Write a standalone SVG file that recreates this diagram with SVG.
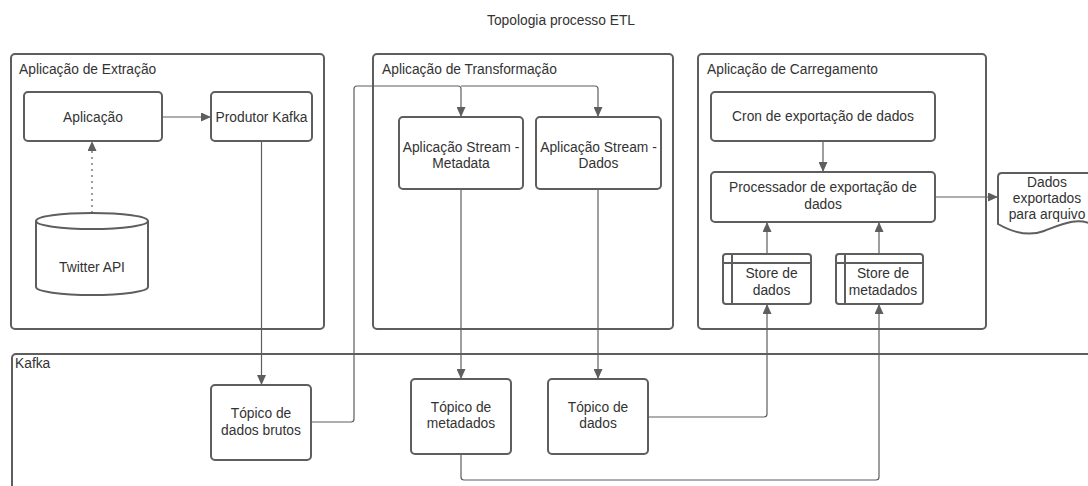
<svg xmlns="http://www.w3.org/2000/svg" width="1088" height="486" viewBox="0 0 1088 486">
<defs>
<style>
.box{fill:#fff;stroke:#5e5e5e;stroke-width:2}
.cont{fill:#fff;stroke:#5e5e5e;stroke-width:2}
.t{font-family:"Liberation Sans",Arial,sans-serif;font-size:13.8px;fill:#333;text-anchor:middle}
.tl{font-family:"Liberation Sans",Arial,sans-serif;font-size:13.8px;fill:#333;text-anchor:start}
.c{fill:none;stroke:#5e5e5e;stroke-width:1.2}
.a{marker-end:url(#arr)}
</style>
<marker id="arr" markerUnits="userSpaceOnUse" markerWidth="10" markerHeight="9" refX="10" refY="4.5" orient="auto">
<path d="M0,0 L10,4.5 L0,9 z" fill="#5e5e5e"/>
</marker>
</defs>
<rect width="1088" height="486" fill="#fff"/>
<text class="t" x="561" y="25">Topologia processo ETL</text>

<g id="containers">
<g id="extracao"><rect class="cont" x="11" y="54" width="313" height="275" rx="4"/><text class="tl" x="19" y="74">Aplicação de Extração</text></g>
<g id="transformacao"><rect class="cont" x="373" y="54" width="300" height="275" rx="4"/><text class="tl" x="382" y="74">Aplicação de Transformação</text></g>
<g id="carregamento"><rect class="cont" x="698" y="54" width="288" height="275" rx="4"/><text class="tl" x="707" y="74">Aplicação de Carregamento</text></g>
<g id="kafka"><rect class="cont" x="12" y="354" width="1100" height="160" rx="4"/><text class="tl" x="15" y="368">Kafka</text></g>
</g>

<g id="connectors">
<path class="c a" d="M162,117 L211,117"/>
<path class="c a" d="M92,213 L92,141" stroke-dasharray="2,4"/>
<path class="c a" d="M261.5,141 L261.5,385"/>
<path class="c a" d="M311,422 L351,422 Q354,422 354,419 L354,89 Q354,86 357,86 L458,86 Q461,86 461,89 L461,117"/>
<path class="c a" d="M461,86 L595,86 Q598,86 598,89 L598,117"/>
<path class="c a" d="M461,189 L461,379"/>
<path class="c a" d="M598,189 L598,379"/>
<path class="c a" d="M648,417 L764,417 Q767,417 767,414 L767,304"/>
<path class="c a" d="M461,454 L461,477 Q461,480 464,480 L876,480 Q879,480 879,477 L879,304"/>
<path class="c a" d="M767,254 L767,222"/>
<path class="c a" d="M879,254 L879,222"/>
<path class="c a" d="M823,141 L823,172"/>
<path class="c a" d="M935,197 L998,197"/>
</g>

<g id="aplicacao"><rect class="box" x="24" y="92" width="138" height="49" rx="4"/><text class="t" x="93" y="122">Aplicação</text></g>
<g id="produtor"><rect class="box" x="211" y="92" width="101" height="49" rx="4"/><text class="t" x="261.5" y="122">Produtor Kafka</text></g>
<g id="twitter">
<path class="box" d="M36,221 A56,8 0 0 1 148,221 L148,287 A56,8 0 0 1 36,287 Z"/>
<path fill="none" stroke="#5e5e5e" stroke-width="2" d="M36,221 A56,8 0 0 0 148,221"/>
<text class="t" x="92" y="272">Twitter API</text>
</g>
<g id="stream-metadata"><rect class="box" x="399" y="117" width="124" height="72" rx="4"/><text class="t" x="461" y="152">Aplicação Stream -</text><text class="t" x="461" y="168">Metadata</text></g>
<g id="stream-dados"><rect class="box" x="536" y="117" width="125" height="72" rx="4"/><text class="t" x="598.5" y="152">Aplicação Stream -</text><text class="t" x="598.5" y="168">Dados</text></g>
<g id="cron"><rect class="box" x="711" y="92" width="224" height="49" rx="4"/><text class="t" x="823" y="121">Cron de exportação de dados</text></g>
<g id="processador"><rect class="box" x="711" y="172" width="224" height="50" rx="4"/><text class="t" x="823" y="192">Processador de exportação de</text><text class="t" x="823" y="209">dados</text></g>
<g id="store-dados">
<rect class="box" x="723" y="254" width="88" height="50" rx="3"/>
<path fill="none" stroke="#5e5e5e" stroke-width="2" d="M732,254 L732,304 M723,263 L811,263"/>
<text class="t" x="771.5" y="278">Store de</text><text class="t" x="771.5" y="295">dados</text>
</g>
<g id="store-metadados">
<rect class="box" x="836" y="254" width="87" height="50" rx="3"/>
<path fill="none" stroke="#5e5e5e" stroke-width="2" d="M845,254 L845,304 M836,263 L923,263"/>
<text class="t" x="883" y="278">Store de</text><text class="t" x="883" y="295">metadados</text>
</g>
<g id="dados-exportados">
<path class="box" d="M998,177 Q998,173 1002,173 L1092,173 Q1096,173 1096,177 L1096,226 C1078,216 1062,224 1044,231 C1028,237 1012,232 998,224 Z"/>
<text class="t" x="1047" y="187">Dados</text><text class="t" x="1047" y="203">exportados</text><text class="t" x="1047" y="219">para arquivo</text>
</g>
<g id="topico-brutos"><rect class="box" x="211" y="385" width="100" height="75" rx="4"/><text class="t" x="261" y="418">Tópico de</text><text class="t" x="261" y="435">dados brutos</text></g>
<g id="topico-metadados"><rect class="box" x="411" y="379" width="100" height="75" rx="4"/><text class="t" x="461" y="412">Tópico de</text><text class="t" x="461" y="428">metadados</text></g>
<g id="topico-dados"><rect class="box" x="548" y="379" width="100" height="75" rx="4"/><text class="t" x="598" y="412">Tópico de</text><text class="t" x="598" y="428">dados</text></g>
</svg>
